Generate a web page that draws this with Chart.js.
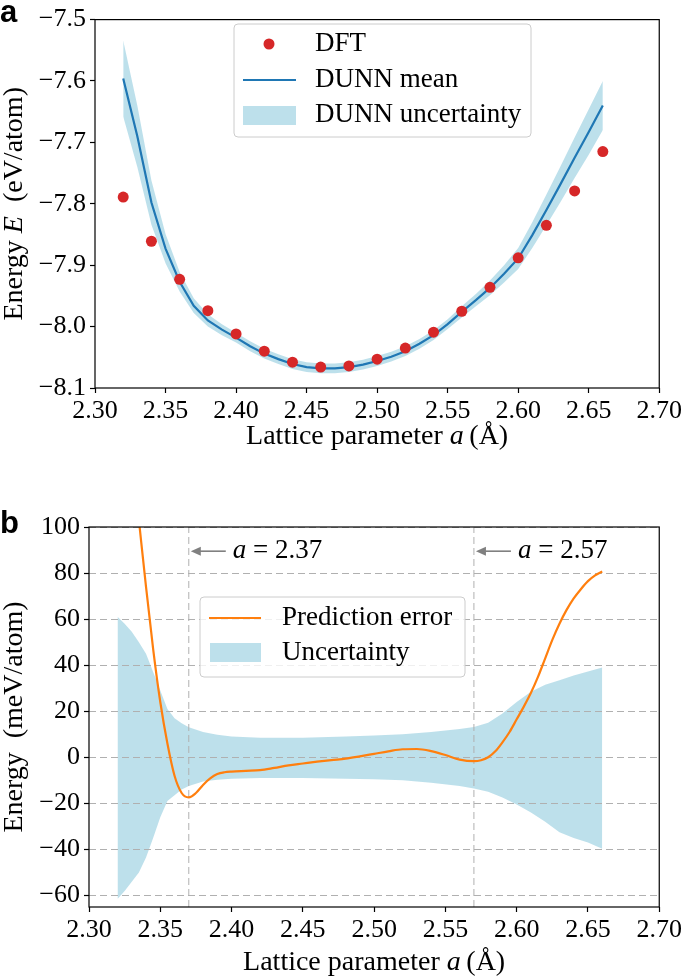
<!DOCTYPE html>
<html>
<head>
<meta charset="utf-8">
<script src="https://cdn.jsdelivr.net/npm/chart.js@4.4.0/dist/chart.umd.min.js"></script>
<style>
  body { margin: 0; background: #fff; width: 685px; height: 977px; overflow: hidden; position: relative; }
  canvas { position: absolute; left: 0; }
</style>
</head>
<body>
<canvas id="chartA" width="685" height="470" style="top:0"></canvas>
<canvas id="chartB" width="685" height="507" style="top:470px"></canvas>
<script>
// ---- panel a: energy vs lattice parameter ----
const aDftX = [2.32, 2.34, 2.36, 2.38, 2.40, 2.42, 2.44, 2.46, 2.48, 2.50, 2.52, 2.54, 2.56, 2.58, 2.60, 2.62, 2.64, 2.66];
const aDftE = [-7.789, -7.861, -7.923, -7.974, -8.012, -8.040, -8.058, -8.066, -8.064, -8.053, -8.035, -8.009, -7.975, -7.936, -7.888, -7.835, -7.779, -7.715];

const aX = [2.32, 2.33, 2.34, 2.35, 2.36, 2.37, 2.38, 2.39, 2.40, 2.41, 2.42, 2.43, 2.44, 2.45, 2.46, 2.47, 2.48, 2.49,
            2.50, 2.51, 2.52, 2.53, 2.54, 2.55, 2.56, 2.57, 2.58, 2.59, 2.60, 2.61, 2.62, 2.63, 2.64, 2.65, 2.66];
const aMean = [-7.596, -7.690, -7.798, -7.873, -7.927, -7.966, -7.990, -8.005, -8.018, -8.032, -8.044, -8.053, -8.061, -8.066,
               -8.068, -8.068, -8.066, -8.062, -8.056, -8.049, -8.040, -8.028, -8.014, -7.996, -7.976, -7.957, -7.937, -7.914,
               -7.889, -7.851, -7.810, -7.768, -7.725, -7.683, -7.640];
const aUnc = [0.062, 0.050, 0.036, 0.024, 0.016, 0.012, 0.010, 0.009, 0.008, 0.008, 0.008, 0.008, 0.008, 0.008, 0.008, 0.008,
              0.008, 0.008, 0.008, 0.008, 0.008, 0.008, 0.008, 0.008, 0.009, 0.010, 0.012, 0.014, 0.017, 0.021, 0.025, 0.029,
              0.033, 0.037, 0.040];
const aXTicks = [2.30, 2.35, 2.40, 2.45, 2.50, 2.55, 2.60, 2.65, 2.70];
const aYTicks = [-8.1, -8.0, -7.9, -7.8, -7.7, -7.6, -7.5];

// ---- panel b: prediction error vs uncertainty ----
const bErrX = [2.320, 2.330, 2.335, 2.340, 2.345, 2.350, 2.355, 2.360, 2.365, 2.370, 2.375, 2.380, 2.385, 2.390, 2.395,
               2.400, 2.410, 2.420, 2.430, 2.440, 2.450, 2.460, 2.470, 2.480, 2.490, 2.500, 2.510, 2.520, 2.530, 2.540,
               2.550, 2.560, 2.570, 2.575, 2.580, 2.585, 2.590, 2.595, 2.600, 2.605, 2.610, 2.615, 2.620, 2.625, 2.630,
               2.635, 2.640, 2.645, 2.650, 2.655, 2.660];
const bErr = [190, 132, 103, 74, 47, 24, 6, -8, -15.5, -17.4, -15.5, -12, -9.2, -7.3, -6.5,
              -6.2, -5.9, -5.6, -4.6, -3.5, -2.7, -1.9, -1.2, -0.6, 0.4, 1.5, 2.6, 3.5, 3.6, 2.7,
              1.0, -1.0, -1.7, -1.3, 0.0, 2.6, 6.5, 11, 16.5, 22, 28, 35, 43, 51, 58,
              64, 69, 73, 76.5, 79, 80.7];
const bBandX = [2.320, 2.325, 2.330, 2.335, 2.340, 2.345, 2.350, 2.355, 2.360, 2.365, 2.370, 2.380, 2.390, 2.400,
                2.420, 2.450, 2.480, 2.500, 2.520, 2.540, 2.560, 2.570, 2.580, 2.590, 2.600, 2.610, 2.620, 2.630,
                2.640, 2.650, 2.660];
const bBandHi = [61, 58, 54.5, 50, 45, 37, 29, 21, 17, 14.8, 13, 11, 9.8, 9, 8.5, 8.5, 9, 9.5, 10, 11, 12.3, 13.2, 15,
                 19, 24, 28.5, 31.5, 33.5, 35.5, 37.3, 39];
const bBandLo = [-61.5, -58, -54, -50, -43.5, -35, -26, -19, -16.5, -14, -12.5, -10.5, -9.7, -9.3, -9, -9, -9.3, -9.5,
                 -10, -11, -12.5, -13.5, -15, -17.5, -20.5, -24, -28, -32.5, -35, -37, -39.7];
const bMarks = [2.37, 2.57];
const bNoteY = 89.5;
const bXTicks = [2.30, 2.35, 2.40, 2.45, 2.50, 2.55, 2.60, 2.65, 2.70];
const bYTicks = [-60, -40, -20, 0, 20, 40, 60, 80, 100];

const SERIF = "'Liberation Serif', 'Times New Roman', serif";
const BAND = 'rgba(173, 216, 230, 0.8)';
const NONE = 'rgba(0,0,0,0)';
const TXT = 27; // legend / title size

Chart.defaults.font.family = SERIF;
Chart.defaults.font.size = 26;
Chart.defaults.color = '#000';

function pts(xs, ys) {
  return xs.map((x, i) => ({ x: x, y: ys[i] }));
}

function minus(v, d) {
  return (v < 0 ? '\u2212' : '') + Math.abs(v).toFixed(d);
}

// draw text made of upright and italic pieces
function drawRich(ctx, parts, x, y, size, align, rotate) {
  ctx.save();
  let total = 0;
  parts.forEach(p => {
    ctx.font = (p.i ? 'italic ' : '') + size + 'px ' + SERIF;
    p.w = ctx.measureText(p.t).width;
    total += p.w;
  });
  ctx.translate(x, y);
  if (rotate) ctx.rotate(-Math.PI / 2);
  let cx = align === 'center' ? -total / 2 : 0;
  ctx.fillStyle = '#000';
  ctx.textBaseline = 'middle';
  ctx.textAlign = 'left';
  parts.forEach(p => {
    ctx.font = (p.i ? 'italic ' : '') + size + 'px ' + SERIF;
    ctx.fillText(p.t, cx, 0);
    cx += p.w;
  });
  ctx.restore();
}

function legendBox(ctx, x1, y1, x2, y2) {
  ctx.save();
  ctx.beginPath();
  ctx.roundRect(x1, y1, x2 - x1, y2 - y1, 4);
  ctx.fillStyle = 'rgba(255,255,255,0.8)';
  ctx.fill();
  ctx.strokeStyle = '#cccccc';
  ctx.lineWidth = 1;
  ctx.stroke();
  ctx.restore();
}

// frame, axis titles, panel letter
function decorPlugin(letter, letterY, xTitleY, yTitle) {
  return {
    id: 'decor',
    afterDraw(chart) {
      const ctx = chart.ctx;
      const a = chart.chartArea;
      ctx.save();
      ctx.strokeStyle = '#000';
      ctx.lineWidth = 1.2;
      ctx.strokeRect(a.left, a.top, a.right - a.left, a.bottom - a.top);
      ctx.fillStyle = '#000';
      ctx.font = 'bold 31px "Liberation Sans", Arial, sans-serif';
      ctx.textBaseline = 'alphabetic';
      ctx.fillText(letter, 0, letterY);
      ctx.restore();
      drawRich(ctx, [{ t: 'Lattice parameter ' }, { t: 'a', i: true }, { t: '\u2009(\u00C5)' }],
               (a.left + a.right) / 2, xTitleY, 28, 'center', false);
      drawRich(ctx, yTitle, 15, (a.top + a.bottom) / 2, 28, 'center', true);
    }
  };
}

function xScale(ticks, h) {
  return {
    type: 'linear', min: 2.30, max: 2.70,
    afterBuildTicks: s => { s.ticks = ticks.map(v => ({ value: v })); },
    afterFit: s => { s.height = h; },
    grid: { drawOnChartArea: false, drawTicks: true, tickLength: 5, tickColor: '#000', tickWidth: 1.2 },
    border: { display: false },
    ticks: { color: '#000', padding: 3, maxRotation: 0, font: { family: SERIF, size: 26 },
             callback: v => v.toFixed(2) }
  };
}

function yScale(ticks, min, max, w, dec) {
  return {
    type: 'linear', min: min, max: max,
    afterBuildTicks: s => { s.ticks = ticks.map(v => ({ value: v })); },
    afterFit: s => { s.width = w; },
    grid: { drawOnChartArea: false, drawTicks: true, tickLength: 5, tickColor: '#000', tickWidth: 1.2 },
    border: { display: false },
    ticks: { color: '#000', padding: 4, font: { family: SERIF, size: 26 },
             callback: v => minus(v, dec) }
  };
}

// ---------- chart a ----------
const legendA = {
  id: 'legendA',
  afterDraw(chart) {
    const ctx = chart.ctx;
    legendBox(ctx, 234, 24, 531, 137);
    ctx.save();
    ctx.fillStyle = '#d62728';
    ctx.beginPath();
    ctx.arc(269, 44, 5.5, 0, Math.PI * 2);
    ctx.fill();
    ctx.strokeStyle = '#1f77b4';
    ctx.lineWidth = 2.2;
    ctx.beginPath();
    ctx.moveTo(243, 80);
    ctx.lineTo(296, 80);
    ctx.stroke();
    ctx.fillStyle = BAND;
    ctx.fillRect(243, 106, 53, 19);
    ctx.restore();
    const ds = chart.data.datasets;
    drawRich(ctx, [{ t: ds[0].label }], 315, 44, TXT, 'left');
    drawRich(ctx, [{ t: ds[1].label }], 315, 80, TXT, 'left');
    drawRich(ctx, [{ t: ds[2].label }], 315, 115, TXT, 'left');
  }
};

new Chart(document.getElementById('chartA'), {
  type: 'line',
  data: {
    datasets: [
      { label: 'DFT', data: pts(aDftX, aDftE), showLine: false, pointRadius: 5.5, pointBorderWidth: 0,
        pointBackgroundColor: '#d62728', pointBorderColor: '#d62728' },
      { label: 'DUNN mean', data: pts(aX, aMean), borderColor: '#1f77b4', borderWidth: 2.2, pointRadius: 0, tension: 0 },
      { label: 'DUNN uncertainty', data: pts(aX, aMean.map((m, i) => m + aUnc[i])), borderColor: NONE, borderWidth: 0,
        pointRadius: 0, fill: '+1', backgroundColor: BAND },
      { label: 'lower', data: pts(aX, aMean.map((m, i) => m - aUnc[i])), borderColor: NONE, borderWidth: 0,
        pointRadius: 0, fill: false }
    ]
  },
  options: {
    responsive: false, animation: false,
    layout: { padding: { left: 0, top: 12, right: 22, bottom: 0 } },
    plugins: { legend: { display: false }, tooltip: { enabled: false } },
    scales: {
      x: xScale(aXTicks, 82),
      y: yScale(aYTicks, -8.1, -7.5, 95, 1)
    }
  },
  plugins: [legendA, decorPlugin('a', 22, 437,
    [{ t: 'Energy ' }, { t: 'E', i: true }, { t: '\u2002(eV/atom)' }])]
});

// ---------- chart b ----------
const gridB = {
  id: 'gridB',
  beforeDatasetDraw(chart, args) {
    if (args.index !== 2) return;
    const ctx = chart.ctx;
    const a = chart.chartArea;
    const y = chart.scales.y;
    ctx.save();
    ctx.strokeStyle = '#b0b0b0';
    ctx.lineWidth = 1;
    ctx.setLineDash([7, 4]);
    bYTicks.forEach(v => {
      const py = Math.round(y.getPixelForValue(v)) + 0.5;
      ctx.beginPath();
      ctx.moveTo(a.left, py);
      ctx.lineTo(a.right, py);
      ctx.stroke();
    });
    ctx.restore();
  }
};

const notesB = {
  id: 'notesB',
  afterDatasetsDraw(chart) {
    const ctx = chart.ctx;
    const xs = chart.scales.x, ys = chart.scales.y;
    bMarks.forEach(m => {
      const px = xs.getPixelForValue(m);
      const py = ys.getPixelForValue(bNoteY);
      ctx.save();
      ctx.strokeStyle = '#808080';
      ctx.fillStyle = '#808080';
      ctx.lineWidth = 1.6;
      ctx.beginPath();
      ctx.moveTo(px + 37, py);
      ctx.lineTo(px + 10, py);
      ctx.stroke();
      ctx.beginPath();
      ctx.moveTo(px + 2, py);
      ctx.lineTo(px + 12, py - 4.5);
      ctx.lineTo(px + 12, py + 4.5);
      ctx.closePath();
      ctx.fill();
      ctx.restore();
      drawRich(ctx, [{ t: 'a', i: true }, { t: ' = ' + m.toFixed(2) }], px + 44, py, TXT, 'left');
    });
  }
};

const legendB = {
  id: 'legendB',
  afterDraw(chart) {
    const ctx = chart.ctx;
    legendBox(ctx, 200, 127, 465, 207);
    ctx.save();
    ctx.strokeStyle = '#ff7f0e';
    ctx.lineWidth = 2.2;
    ctx.beginPath();
    ctx.moveTo(209, 148);
    ctx.lineTo(261, 148);
    ctx.stroke();
    ctx.fillStyle = BAND;
    ctx.fillRect(210, 173, 51, 19);
    ctx.restore();
    const ds = chart.data.datasets;
    drawRich(ctx, [{ t: ds[0].label }], 282, 148, TXT, 'left');
    drawRich(ctx, [{ t: ds[3].label }], 282, 183, TXT, 'left');
  }
};

new Chart(document.getElementById('chartB'), {
  type: 'line',
  data: {
    datasets: [
      { label: 'Prediction error', data: pts(bErrX, bErr), borderColor: '#ff7f0e', borderWidth: 2.2, pointRadius: 0,
        cubicInterpolationMode: 'monotone' },
      { label: 'mark1', data: [{ x: bMarks[0], y: -65 }, { x: bMarks[0], y: 100 }], borderColor: '#b0b0b0',
        borderWidth: 1, borderDash: [7, 4], pointRadius: 0 },
      { label: 'mark2', data: [{ x: bMarks[1], y: -65 }, { x: bMarks[1], y: 100 }], borderColor: '#b0b0b0',
        borderWidth: 1, borderDash: [7, 4], pointRadius: 0 },
      { label: 'Uncertainty', data: pts(bBandX, bBandHi), borderColor: NONE, borderWidth: 0, pointRadius: 0,
        fill: '+1', backgroundColor: BAND },
      { label: 'lower', data: pts(bBandX, bBandLo), borderColor: NONE, borderWidth: 0, pointRadius: 0, fill: false }
    ]
  },
  options: {
    responsive: false, animation: false,
    layout: { padding: { left: 0, top: 57, right: 22, bottom: 0 } },
    plugins: { legend: { display: false }, tooltip: { enabled: false } },
    scales: {
      x: xScale(bXTicks, 70),
      y: yScale(bYTicks, -65, 100, 89, 0)
    }
  },
  plugins: [gridB, notesB, legendB, decorPlugin('b', 63, 493,
    [{ t: 'Energy\u2002(meV/atom)' }])]
});
</script>
</body>
</html>
